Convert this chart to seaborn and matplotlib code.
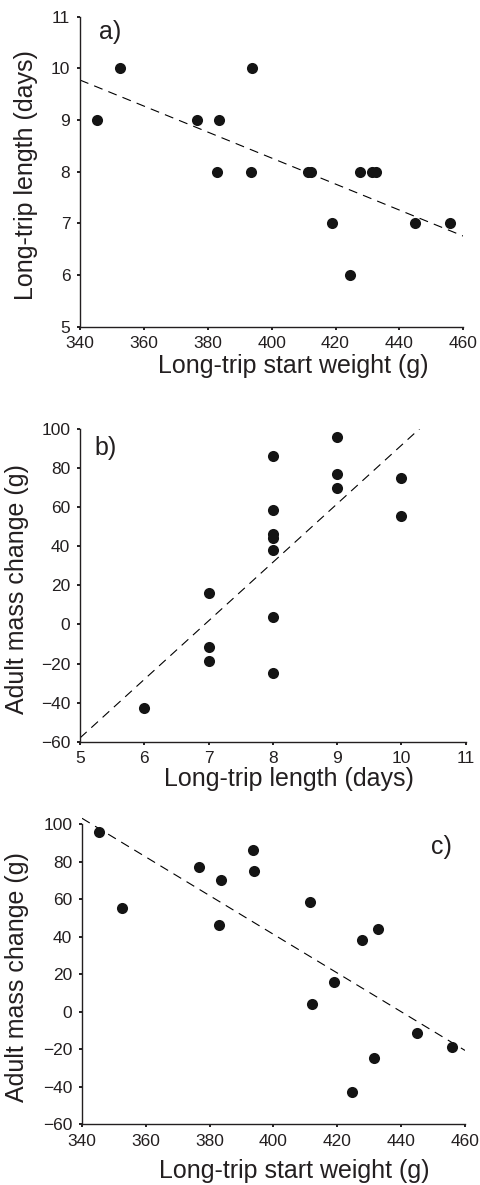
import matplotlib
matplotlib.use("Agg")
import matplotlib.pyplot as plt
import seaborn as sns

# Long-trip start weight (g), trip length (days) and adult mass change (g) per bird
start_weight = [345.2, 352.6, 376.6, 383.6, 383.0, 393.8, 393.5, 411.5,
                412.2, 419.0, 424.5, 427.8, 431.4, 432.7, 445.0, 455.9]
trip_length = [9, 10, 9, 9, 8, 10, 8, 8, 8, 7, 6, 8, 8, 8, 7, 7]
mass_change = [95.7, 55.5, 77.0, 69.9, 46.3, 74.7, 86.3, 58.4,
               3.9, 16.0, -42.7, 38.1, -24.6, 44.1, -11.4, -18.9]

weight_ticks = [340, 360, 380, 400, 420, 440, 460]
length_ticks = [5, 6, 7, 8, 9, 10, 11]
mass_ticks = [-60, -40, -20, 0, 20, 40, 60, 80, 100]

sns.set_theme(style="ticks")
plt.rcParams["font.family"] = ["Liberation Sans", "DejaVu Sans"]
plt.rcParams["lines.scale_dashes"] = False

INK = "#231f20"
DOT = "#141414"
W, H = 481, 1185

fig = plt.figure(figsize=(W / 100, H / 100), dpi=100)


def axes_px(left, right, top, bottom):
    return fig.add_axes([left / W, 1 - bottom / H, (right - left) / W, (bottom - top) / H])


def style(ax, xticks, yticks, ybounds=None):
    for side in ("top", "right"):
        ax.spines[side].set_visible(False)
    for side in ("left", "bottom"):
        ax.spines[side].set_color(INK)
        ax.spines[side].set_linewidth(1.0)
    if ybounds is not None:
        ax.spines["left"].set_bounds(*ybounds)
    ax.set_xticks(xticks)
    ax.set_yticks(yticks)
    ax.tick_params(axis="both", direction="out", length=2, width=1.4,
                   color=INK, labelcolor=INK, labelsize=12.5, pad=5)
    ax.grid(False)
    ax.set_facecolor("white")


def fit(ax, x, y):
    sns.regplot(x=x, y=y, ax=ax, ci=None, truncate=False, color=DOT,
                scatter_kws=dict(s=64, linewidths=0, color=DOT, alpha=1, zorder=3),
                line_kws=dict(color="black", lw=0.8, linestyle=(0, (6.5, 4.5)), zorder=2))


# a) trip length against start weight
ax_a = axes_px(80, 463.3, 16.7, 326.7)
ax_a.set_xlim(340, 460)
ax_a.set_ylim(5, 11)
fit(ax_a, start_weight, trip_length)
style(ax_a, weight_ticks, length_ticks)
ax_a.set_xlabel("Long-trip start weight (g)", fontsize=18, color=INK)
ax_a.set_ylabel("Long-trip length (days)", fontsize=18, color=INK)

# b) mass change against trip length
ax_b = axes_px(80, 465.7, 429, 741.7)
ax_b.set_xlim(5, 11)
ax_b.set_ylim(-60, 100)
fit(ax_b, trip_length, mass_change)
style(ax_b, length_ticks, mass_ticks)
ax_b.set_xlabel("Long-trip length (days)", fontsize=18, color=INK)
ax_b.set_ylabel("Adult mass change (g)", fontsize=18, color=INK)

# c) mass change against start weight
ax_c = axes_px(82, 465, 816.5, 1124.3)
ax_c.set_xlim(340, 460)
ax_c.set_ylim(-60, 104)
fit(ax_c, start_weight, mass_change)
style(ax_c, weight_ticks, mass_ticks, ybounds=(-60, 100))
ax_c.set_xlabel("Long-trip start weight (g)", fontsize=18, color=INK)
ax_c.set_ylabel("Adult mass change (g)", fontsize=18, color=INK)

# Axis-label placement (label centres, in pixels)
for ax, (l, r, t, b), xl, yl in [
    (ax_a, (80, 463.3, 16.7, 326.7), (293.5, 366), (25.5, 175)),
    (ax_b, (80, 465.7, 429, 741.7), (289, 779), (16.5, 589)),
    (ax_c, (82, 465, 816.5, 1124.3), (294.5, 1171), (16.5, 977)),
]:
    ax.xaxis.label.set_va("center")
    ax.yaxis.label.set_va("center")
    ax.xaxis.set_label_coords((xl[0] - l) / (r - l), (b - xl[1]) / (b - t))
    ax.yaxis.set_label_coords((yl[0] - l) / (r - l), (b - yl[1]) / (b - t))

# Panel letters
for txt, (px, py) in [("a)", (110, 32)), ("b)", (106, 448)), ("c)", (441, 847))]:
    fig.text(px / W, 1 - py / H, txt, fontsize=18, color=INK, ha="center", va="center")

fig.savefig("out.png", dpi=100, facecolor="white")
